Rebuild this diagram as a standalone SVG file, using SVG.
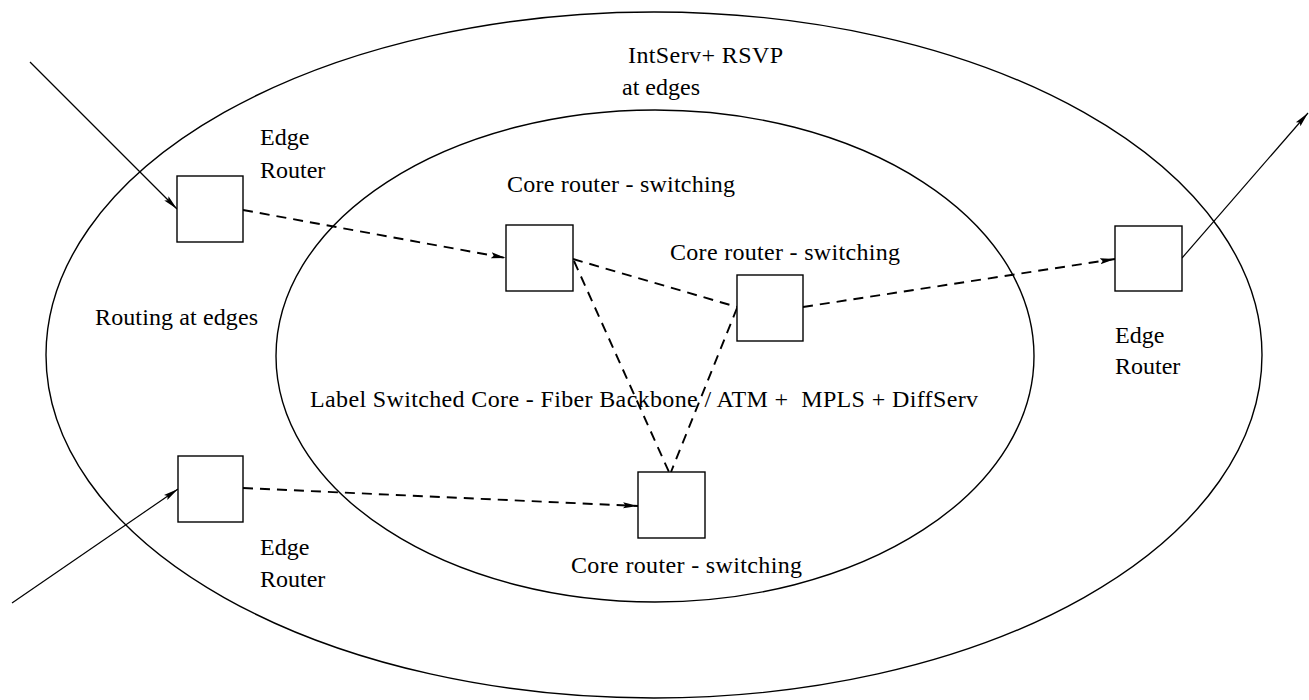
<svg xmlns="http://www.w3.org/2000/svg" width="1309" height="700" viewBox="0 0 1309 700">
  <style>
    .region { fill: none; stroke: #000; stroke-width: 1.4; }
    .box { fill: #fff; stroke: #000; stroke-width: 1.4; }
    .link { fill: none; stroke: #000; stroke-width: 1.2; }
    .dash { fill: none; stroke: #000; stroke-width: 1.9; stroke-dasharray: 10 7; }
    text { font-family: "Liberation Serif", "Times New Roman", serif; font-size: 24px; fill: #000; }
  </style>
  <defs>
    <marker id="head" markerUnits="userSpaceOnUse" markerWidth="16" markerHeight="8" refX="15" refY="4" orient="auto">
      <path d="M0,1 L15,4 L0,7 L2.5,4 z" fill="#000" stroke="none"/>
    </marker>
  </defs>

  <rect width="1309" height="700" fill="#fff"/>

  <!-- nested domains -->
  <g id="edge-domain">
    <ellipse class="region" cx="654" cy="355" rx="608" ry="343"/>
    <text x="628" y="63" textLength="155">IntServ+ RSVP</text>
    <text x="622" y="95">at edges</text>
    <text x="95" y="325" textLength="163">Routing at edges</text>
  </g>
  <g id="core-domain">
    <ellipse class="region" cx="655" cy="356" rx="379" ry="246"/>
    <text x="310" y="407" textLength="668">Label Switched Core - Fiber Backbone / ATM +&#160; MPLS + DiffServ</text>
  </g>

  <!-- links between routers -->
  <g id="connectors">
    <line class="link" x1="30" y1="62" x2="177" y2="209" marker-end="url(#head)"/>
    <line class="link" x1="12" y1="603" x2="178" y2="489" marker-end="url(#head)"/>
    <line class="link" x1="1182" y1="258" x2="1308" y2="113" marker-end="url(#head)"/>
    <line class="dash" x1="243" y1="210" x2="506" y2="258" marker-end="url(#head)"/>
    <line class="dash" x1="573" y1="259" x2="737" y2="307"/>
    <line class="dash" x1="574" y1="261" x2="669" y2="472"/>
    <line class="dash" x1="737" y1="308" x2="671" y2="472"/>
    <line class="dash" x1="803" y1="307" x2="1115" y2="259" marker-end="url(#head)"/>
    <line class="dash" x1="243" y1="488" x2="638" y2="506" marker-end="url(#head)"/>
  </g>

  <!-- routers -->
  <g id="edge-router-in-top">
    <rect class="box" x="177" y="176" width="66" height="66"/>
    <text x="260" y="145">Edge</text>
    <text x="260" y="178">Router</text>
  </g>
  <g id="edge-router-in-bottom">
    <rect class="box" x="178" y="456" width="65" height="66"/>
    <text x="260" y="555">Edge</text>
    <text x="260" y="587">Router</text>
  </g>
  <g id="edge-router-out">
    <rect class="box" x="1115" y="226" width="67" height="65"/>
    <text x="1115" y="343">Edge</text>
    <text x="1115" y="374">Router</text>
  </g>
  <g id="core-router-a">
    <rect class="box" x="506" y="225" width="67" height="66"/>
    <text x="507" y="192" textLength="228">Core router - switching</text>
  </g>
  <g id="core-router-b">
    <rect class="box" x="737" y="275" width="66" height="66"/>
    <text x="670" y="260" textLength="230">Core router - switching</text>
  </g>
  <g id="core-router-c">
    <rect class="box" x="638" y="472" width="67" height="66"/>
    <text x="571" y="573" textLength="231">Core router - switching</text>
  </g>
</svg>
